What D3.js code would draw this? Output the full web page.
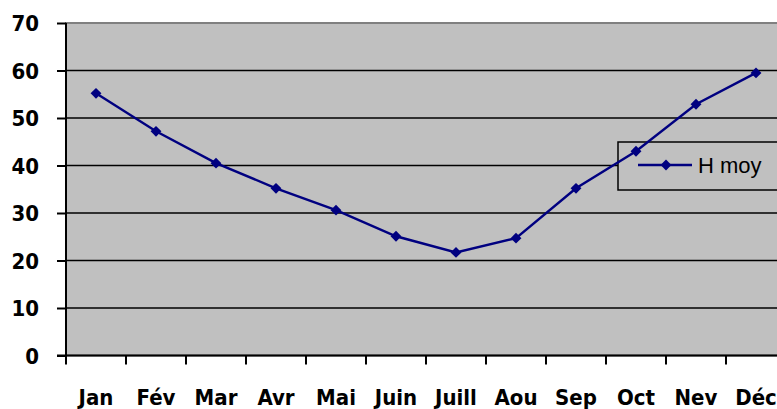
<!DOCTYPE html>
<html>
<head>
    <meta charset="UTF-8">
    <title>H moy</title>
    <script src="https://cdn.jsdelivr.net/npm/d3@7"></script>
    <style>
        body { margin: 0; background: #fff; }
        svg { display: block; }
        .tick-lbl { font-family: "DejaVu Sans Condensed", "DejaVu Sans", sans-serif; font-stretch: condensed; font-weight: bold; fill: #000; }
    </style>
</head>
<body>
    <svg width="777" height="409"></svg>
    <script>
        // donnees
        var mois = ["Jan", "Fév", "Mar", "Avr", "Mai", "Juin", "Juill", "Aou", "Sep", "Oct", "Nev", "Déc"];
        var hMoy = [55.2, 47.2, 40.5, 35.2, 30.6, 25.1, 21.7, 24.7, 35.2, 43.0, 52.9, 59.5];
        var yTicks = [0, 10, 20, 30, 40, 50, 60, 70];
        var serieNom = "H moy";

        var svg = d3.select("svg");
        var plot = {left: 66, right: 786, top: 23, bottom: 355.5};

        var x = d3.scaleBand().domain(mois).range([plot.left, plot.right]);
        var y = d3.scaleLinear().domain([0, 70]).range([plot.bottom, plot.top]);

        // fond gris
        svg.append("rect")
            .attr("x", plot.left).attr("y", plot.top)
            .attr("width", plot.right - plot.left).attr("height", plot.bottom - plot.top)
            .attr("fill", "#c0c0c0")
            .attr("stroke", "#808080").attr("stroke-width", 2);

        // grille
        svg.append("g").selectAll("line")
            .data(yTicks.filter(function(d){ return d > 0 && d < 70; }))
            .enter().append("line")
            .attr("x1", plot.left).attr("x2", plot.right)
            .attr("y1", function(d){ return y(d); })
            .attr("y2", function(d){ return y(d); })
            .attr("stroke", "#000").attr("stroke-width", 1.6);

        // axe Y
        var yAxis = svg.append("g")
            .attr("transform", "translate(" + plot.left + ",0)")
            .call(d3.axisLeft(y).tickValues(yTicks).tickSize(9).tickPadding(18));
        yAxis.select(".domain").attr("stroke-width", 2).attr("d", "M0," + (plot.bottom + 1) + "V" + plot.top);
        yAxis.selectAll(".tick line").attr("stroke-width", 2);
        yAxis.selectAll("text").attr("class", "tick-lbl").style("font-size", "22px").attr("dy", "0.36em");

        // axe X : traits aux limites des categories
        var bounds = mois.map(function(m){ return x(m); }).concat([plot.right]);
        svg.append("line")
            .attr("x1", plot.left - 9).attr("x2", plot.right)
            .attr("y1", plot.bottom).attr("y2", plot.bottom)
            .attr("stroke", "#000").attr("stroke-width", 2);
        svg.append("g").selectAll("line")
            .data(bounds)
            .enter().append("line")
            .attr("x1", function(d){ return d; }).attr("x2", function(d){ return d; })
            .attr("y1", plot.bottom).attr("y2", plot.bottom + 9)
            .attr("stroke", "#000").attr("stroke-width", 2);
        svg.append("g").selectAll("text")
            .data(mois)
            .enter().append("text")
            .attr("class", "tick-lbl")
            .attr("x", function(d){ return x(d) + x.bandwidth() / 2; })
            .attr("y", 405)
            .attr("text-anchor", "middle")
            .style("font-size", "22px")
            .text(function(d){ return d; });

        // cadre de la legende
        var leg = {x: 618, y: 142, w: 170, h: 48};
        svg.append("rect")
            .attr("x", leg.x).attr("y", leg.y)
            .attr("width", leg.w).attr("height", leg.h)
            .attr("fill", "#c0c0c0")
            .attr("stroke", "#000").attr("stroke-width", 1.5);

        // serie
        var line = d3.line()
            .x(function(d, i){ return x(mois[i]) + x.bandwidth() / 2; })
            .y(function(d){ return y(d); });
        svg.append("path")
            .datum(hMoy)
            .attr("d", line)
            .attr("fill", "none")
            .attr("stroke", "#000080")
            .attr("stroke-width", 2.4);

        var diamond = d3.symbol().type(d3.symbolDiamond2).size(75);
        svg.append("g").selectAll("path")
            .data(hMoy)
            .enter().append("path")
            .attr("d", diamond)
            .attr("transform", function(d, i){
                return "translate(" + (x(mois[i]) + x.bandwidth() / 2) + "," + y(d) + ")";
            })
            .attr("fill", "#000080");

        // contenu de la legende
        var ly = leg.y + 23;
        svg.append("line")
            .attr("x1", 638).attr("x2", 692)
            .attr("y1", ly).attr("y2", ly)
            .attr("stroke", "#000080").attr("stroke-width", 2.4);
        svg.append("path")
            .attr("d", diamond)
            .attr("transform", "translate(666," + ly + ")")
            .attr("fill", "#000080");
        svg.append("text")
            .attr("x", 698).attr("y", ly + 8)
            .style("font-family", "'Liberation Sans', Arial, sans-serif")
            .style("font-size", "22px")
            .attr("fill", "#000")
            .text(serieNom);
    </script>
</body>
</html>
